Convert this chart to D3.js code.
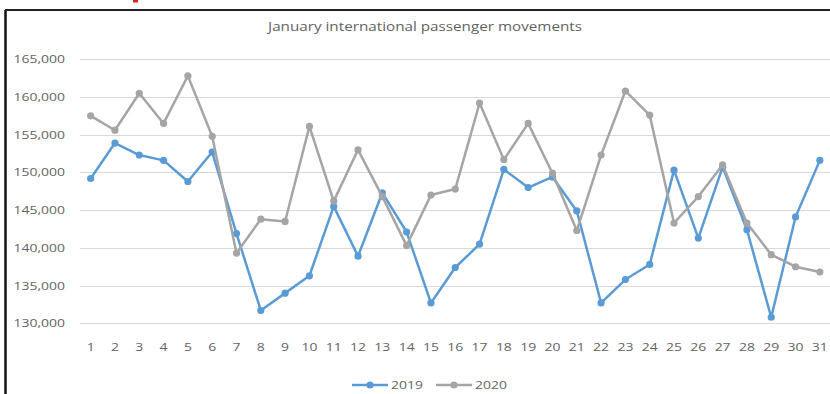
<!DOCTYPE html>
<html>
<head>
<meta charset="utf-8">
<script src="https://cdn.jsdelivr.net/npm/d3@7"></script>
<style>
  html, body { margin: 0; padding: 0; background: #fff; }
  svg { display: block; font-family: "Open Sans", "Liberation Sans", sans-serif; }
</style>
</head>
<body>
<svg id="chart" width="830" height="394"></svg>
<script>
// Daily international passenger movements for January, two years compared
const days = d3.range(1, 32);
const values2019 = [
  149200, 153900, 152300, 151600, 148800, 152700, 141900, 131700, 134000, 136300,
  145500, 138900, 147300, 142100, 132700, 137400, 140500, 150400, 148000, 149400,
  144900, 132700, 135800, 137800, 150300, 141300, 150700, 142400, 130800, 144100,
  151600
];
const values2020 = [
  157500, 155600, 160500, 156500, 162800, 154800, 139300, 143800, 143500, 156100,
  146200, 153000, 146800, 140300, 147000, 147800, 159200, 151700, 156500, 149900,
  142300, 152300, 160800, 157600, 143300, 146800, 151000, 143300, 139100, 137500,
  136800
];
const yTicks = [130000, 135000, 140000, 145000, 150000, 155000, 160000, 165000];
const seriesNames = ["2019", "2020"];
const seriesColors = ["#5b9bd5", "#a5a5a5"];
const chartTitle = "January  international passenger movements";

const svg = d3.select("#chart");
const W = 830, H = 394;
const textColor = "#636363";
const stretch = "scale(1.27,1)"; // wide lettering of the chart's labels

// Frame of the chart area (left and top edges visible)
svg.append("line").attr("x1", 5.5).attr("x2", 5.5).attr("y1", 10).attr("y2", H)
  .attr("stroke", "#111").attr("stroke-width", 2.5);
svg.append("line").attr("x1", 5).attr("x2", W).attr("y1", 10).attr("y2", 10)
  .attr("stroke", "#222").attr("stroke-width", 2);
// small red marker above the frame
svg.append("rect").attr("x", 133).attr("y", 0).attr("width", 5).attr("height", 2.5)
  .attr("fill", "#e0201b");

const x = d3.scaleBand().domain(days).range([78.5, 832]).padding(0);
const y = d3.scaleLinear().domain([130000, 165000]).range([323.3, 59.3]);
const cx = d => x(d) + x.bandwidth() / 2;

// Gridlines
svg.append("g").selectAll("line").data(yTicks).join("line")
  .attr("x1", 80).attr("x2", 830)
  .attr("y1", d => Math.round(y(d)) + 0.5).attr("y2", d => Math.round(y(d)) + 0.5)
  .attr("stroke", "#d9d9d9").attr("stroke-width", 1);

// Y axis labels
const fmt = d3.format(",");
const yAxis = d3.axisLeft(y).tickValues(yTicks).tickFormat(fmt).tickSize(0).tickPadding(0);
const gy = svg.append("g").attr("transform", "translate(65,0)").call(yAxis);
gy.select(".domain").remove();
gy.selectAll("text").attr("fill", textColor).attr("transform", stretch)
  .style("font-size", "11px").style("font-family", "'Open Sans', sans-serif");

// X axis labels
const xAxis = d3.axisBottom(x).tickSize(0).tickPadding(0);
const gx = svg.append("g").attr("transform", "translate(0,343)").call(xAxis);
gx.select(".domain").remove();
gx.selectAll("text").attr("fill", textColor).attr("transform", stretch)
  .style("font-size", "11px").style("font-family", "'Open Sans', sans-serif");

// Title
svg.append("g").attr("transform", "translate(425,30.5)")
  .append("text").attr("text-anchor", "middle").attr("transform", stretch)
  .attr("fill", textColor).style("font-size", "12px").text(chartTitle);

// Series lines and markers
const line = d3.line().x((d, i) => cx(days[i])).y(d => y(d));
[values2019, values2020].forEach((vals, k) => {
  const g = svg.append("g");
  g.append("path").datum(vals).attr("d", line).attr("fill", "none")
    .attr("stroke", seriesColors[k]).attr("stroke-width", 2.5)
    .attr("stroke-linejoin", "round");
  g.selectAll("circle").data(vals).join("circle")
    .attr("cx", (d, i) => cx(days[i])).attr("cy", d => y(d)).attr("r", 3.6)
    .attr("fill", seriesColors[k]);
});

// Legend
const legendX = [352, 436];
seriesNames.forEach((name, k) => {
  const g = svg.append("g").attr("transform", `translate(${legendX[k]},385)`);
  g.append("line").attr("x1", 0).attr("x2", 36).attr("y1", 0).attr("y2", 0)
    .attr("stroke", seriesColors[k]).attr("stroke-width", 2.5);
  g.append("circle").attr("cx", 18).attr("cy", 0).attr("r", 3.6).attr("fill", seriesColors[k]);
  g.append("g").attr("transform", "translate(39,4)")
    .append("text").attr("transform", stretch).attr("fill", textColor)
    .style("font-size", "11px").text(name);
});
</script>
</body>
</html>
